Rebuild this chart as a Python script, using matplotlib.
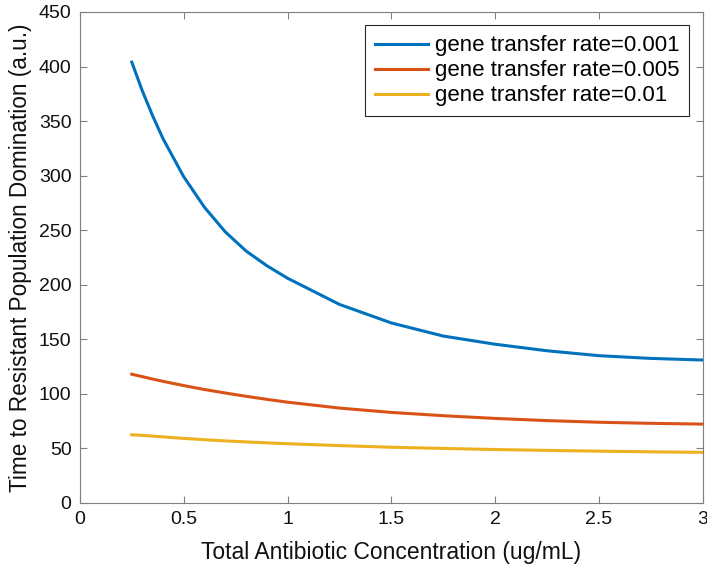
import numpy as np
import matplotlib
matplotlib.use("Agg")
import matplotlib.pyplot as plt

# values
conc = [0.25, 0.3, 0.35, 0.4, 0.5, 0.6, 0.7, 0.8, 0.9, 1.0,
        1.25, 1.5, 1.75, 2.0, 2.25, 2.5, 2.75, 3.0]
t_001 = [404, 378, 355, 334, 299, 271, 248.5, 231, 217.5, 206,
         182, 165, 153, 145.5, 139.5, 135, 132.5, 131]
t_005 = [118, 115.8, 113.6, 111.5, 107.6, 104, 100.8, 97.8, 95, 92.4,
         87, 83, 80, 77.5, 75.5, 74, 73, 72.3]
t_01 = [62.5, 62, 61.3, 60.6, 59.2, 58, 56.9, 56, 55.1, 54.3,
        52.6, 51.1, 50, 49, 48.2, 47.5, 46.9, 46.4]
labels = ["gene transfer rate=0.001", "gene transfer rate=0.005", "gene transfer rate=0.01"]
colors = ["#0072BD", "#D95319", "#EDB120"]

plt.rcParams['font.family'] = ['Liberation Sans', 'DejaVu Sans']

fig = plt.figure(figsize=(7.07, 5.69), dpi=100)
ax = fig.add_axes([0.113, 0.116, 0.881, 0.863])

for y, c, lab in zip([t_001, t_005, t_01], colors, labels):
    ax.plot(conc, y, color=c, linewidth=2.2, label=lab)

ax.set_xlim(0, 3)
ax.set_ylim(0, 450)
ax.set_xticks(np.arange(0, 3.01, 0.5))
ax.set_xticklabels(["0", "0.5", "1", "1.5", "2", "2.5", "3"])
ax.set_yticks(np.arange(0, 451, 50))

edge = "#262626"
for s in ax.spines.values():
    s.set_color("#808080")
    s.set_linewidth(0.8)
ax.tick_params(direction="in", top=True, right=True, length=5, width=0.8,
               color="#808080", labelsize=14, labelcolor="#111111", pad=6)

ax.set_xlabel("Total Antibiotic Concentration (ug/mL)", fontsize=16.5, color="#111111", labelpad=9)
ax.set_ylabel("Time to Resistant Population Domination (a.u.)", fontsize=16.3, color="#111111", labelpad=5)

leg = ax.legend(loc="upper right", fontsize=16, fancybox=False, framealpha=1,
                edgecolor=edge, borderaxespad=0.6, handlelength=2.35,
                handletextpad=0.32, labelspacing=0.18, borderpad=0.45)
leg.get_frame().set_linewidth(0.8)

fig.savefig("out.png", dpi=100)
